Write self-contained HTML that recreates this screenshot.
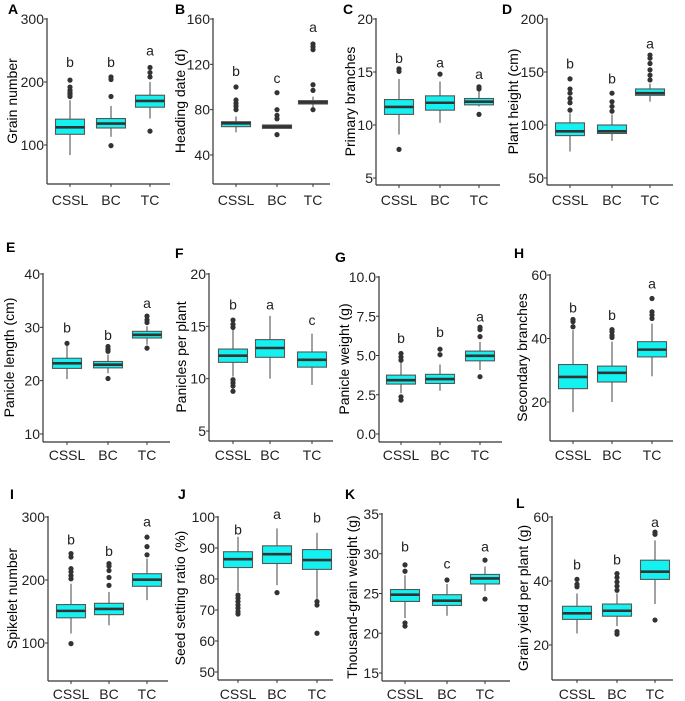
<!DOCTYPE html>
<html><head><meta charset="utf-8">
<style>
html,body{margin:0;padding:0;background:#fff;}
svg{display:block;font-family:"Liberation Sans",Arial,sans-serif;}
</style></head>
<body>
<svg id="fig" width="685" height="701" viewBox="0 0 685 701" xmlns="http://www.w3.org/2000/svg"></svg>
<script>
const categories = ['CSSL','BC','TC'];

// Each stats entry: [lowerWhisker, q1, median, q3, upperWhisker]
const A_stats = [[84,117,128,141,171],[113,127,134,142,162],[142,160,170,179,200]];
const A_out = [[177,180,183,187,192,203],[99,177,204,208],[122,208,215,223]];
const A_letters = ['b','b','a'];
const A_letterVal = [232,232,250];
const A_ticks = [100,200,300];

const B_stats = [[60,65,68,69.4,74],[69.4,63.5,65,66.5,69.4],[81,85,86.5,88,91.5]];
const B_out = [[80,83,85.6,88.5,100],[58,72,75,80,95],[80,97,102,133,135.6,138]];
const B_letters = ['b','c','a'];
const B_letterVal = [114,108,153];
const B_ticks = [40,80,120,160];

const C_stats = [[9.1,11.0,11.7,12.4,14.35],[10.2,11.4,12.1,12.75,14.1],[11.75,11.9,12.2,12.5,13.2]];
const C_out = [[7.7,15.05,15.3],[14.8],[11.0,13.4,13.6]];
const C_letters = ['b','a','a'];
const C_letterVal = [16.3,15.9,14.8];
const C_ticks = [5,10,15,20];

const D_stats = [[75,90,94,102,111],[85,92,94,100,110],[122,128,130,134,139]];
const D_out = [[114,121,125,130,134,143.5],[113,117.5,122,130],[142.5,147,152,158,163,166]];
const D_letters = ['b','b','a'];
const D_letterVal = [158,144,177];
const D_ticks = [50,100,150,200];

const E_stats = [[20.3,22.3,23.25,24.2,26.6],[21.4,22.4,23.0,23.6,24.9],[26.75,28.0,28.6,29.25,30.2]];
const E_out = [[27.0],[20.4,25.5,25.9,26.4],[26.1,30.9,31.4,32.1]];
const E_letters = ['b','b','a'];
const E_letterVal = [30,28.6,34.6];
const E_ticks = [10,20,30,40];

const F_stats = [[10.2,11.56,12.2,12.83,14.7],[10.0,12.04,12.93,13.73,16.0],[9.4,11.1,11.8,12.55,14.3]];
const F_out = [[8.8,9.3,9.6,9.9,14.9,15.2,15.6],[],[]];
const F_letters = ['b','a','c'];
const F_letterVal = [17.1,17.1,15.6];
const F_ticks = [5,10,15,20];

const G_stats = [[2.6,3.18,3.43,3.75,4.6],[2.75,3.22,3.5,3.8,4.43],[4.07,4.66,4.98,5.28,5.87]];
const G_out = [[2.16,2.37,4.7,4.9,5.13],[5.05,5.4],[3.65,6.2,6.65,6.8]];
const G_letters = ['b','b','a'];
const G_letterVal = [6.1,6.5,7.5];
const G_ticks = [0,2.5,5,7.5,10];
const G_tickLabels = ['0.0','2.5','5.0','7.5','10.0'];

const H_stats = [[16.8,24.2,27.9,31.8,42.6],[20,26.3,29.2,31.3,39],[28.1,34.2,36.5,39,44.7]];
const H_out = [[43.7,45.3,46],[40.3,41,42.1,42.8],[46.3,47.4,48.4,52.6]];
const H_letters = ['b','b','a'];
const H_letterVal = [49.8,47.4,57.4];
const H_ticks = [20,40,60];

const I_stats = [[115,140,151,161,194],[128,145,154,163,181],[168,190,200.5,210,234]];
const I_out = [[99,202,207,213,218,236.5,242],[191.5,204,215,222,226],[240,253,268]];
const I_letters = ['b','b','a'];
const I_letterVal = [264,246,293];
const I_ticks = [100,200,300];

const J_stats = [[75.9,83.7,86.4,88.8,93.6],[78,85.0,88,90.7,96.3],[73.2,83.1,86.1,89.5,94.9]];
const J_out = [[68.7,69.5,70.6,71.6,72.7,73.8,74.8],[75.6],[62.5,71.6,72.7]];
const J_letters = ['b','a','b'];
const J_letterVal = [95.9,101,99.8];
const J_ticks = [50,60,70,80,90,100];

const K_stats = [[21.9,24.0,24.85,25.5,27.3],[22.2,23.5,24.1,24.85,26.2],[25.3,26.2,26.9,27.4,28.4]];
const K_out = [[20.9,21.3,27.8,28.6],[26.7],[24.3,29.2]];
const K_letters = ['b','c','a'];
const K_letterVal = [30.9,28.8,30.9];
const K_ticks = [15,20,25,30,35];

const L_stats = [[23.6,28.0,29.9,32.1,36.1],[25.9,29.0,30.7,32.8,36.1],[32.8,40.5,42.9,46.5,52.7]];
const L_out = [[38.2,39,40.5],[23.4,24.2,37.1,38.4,39.7,41.1,42.3],[27.8,54.6,55.3]];
const L_letters = ['b','b','a'];
const L_letterVal = [45.2,46.7,58.4];
const L_ticks = [20,40,60];

// layout (pixel frames) per panel
const panels = [
 {id:'A',title:'Grain number',stats:A_stats,out:A_out,letters:A_letters,lv:A_letterVal,ticks:A_ticks,
  ax:47,xEnd:170,cx:[70,111,150],v1:300,p1:19,v0:100,p0:145,bottom:184,labY:205,tagX:8,tagY:14,titleX:12},
 {id:'B',title:'Heading date (d)',stats:B_stats,out:B_out,letters:B_letters,lv:B_letterVal,ticks:B_ticks,
  ax:213,xEnd:330,cx:[236,277,313],v1:160,p1:19,v0:40,p0:155,bottom:184,labY:205,tagX:175,tagY:14,titleX:180},
 {id:'C',title:'Primary branches',stats:C_stats,out:C_out,letters:C_letters,lv:C_letterVal,ticks:C_ticks,
  ax:376,xEnd:500,cx:[399,440,479],v1:20,p1:19,v0:5,p0:178,bottom:185,labY:205,tagX:343,tagY:14,titleX:350},
 {id:'D',title:'Plant height (cm)',stats:D_stats,out:D_out,letters:D_letters,lv:D_letterVal,ticks:D_ticks,
  ax:547,xEnd:673,cx:[570,612,650],v1:200,p1:19,v0:50,p0:178,bottom:185,labY:205,tagX:502,tagY:14,titleX:513},
 {id:'E',title:'Panicle length (cm)',stats:E_stats,out:E_out,letters:E_letters,lv:E_letterVal,ticks:E_ticks,
  ax:43,xEnd:170,cx:[67,108,147],v1:40,p1:274,v0:10,p0:434,bottom:442,labY:460,tagX:6,tagY:252,titleX:9},
 {id:'F',title:'Panicles per plant',stats:F_stats,out:F_out,letters:F_letters,lv:F_letterVal,ticks:F_ticks,
  ax:209,xEnd:333,cx:[233,270,312],v1:20,p1:274,v0:5,p0:431,bottom:441,labY:460,tagX:175,tagY:258,titleX:181},
 {id:'G',title:'Panicle weight (g)',stats:G_stats,out:G_out,letters:G_letters,lv:G_letterVal,ticks:G_ticks,tl:G_tickLabels,
  ax:379,xEnd:502,cx:[401,440,480],v1:10,p1:277,v0:0,p0:434,bottom:442,labY:460,tagX:335,tagY:262,titleX:344},
 {id:'H',title:'Secondary branches',stats:H_stats,out:H_out,letters:H_letters,lv:H_letterVal,ticks:H_ticks,
  ax:550,xEnd:673,cx:[573,612,652],v1:60,p1:275,v0:20,p0:402,bottom:441,labY:460,tagX:514,tagY:258,titleX:522},
 {id:'I',title:'Spikelet number',stats:I_stats,out:I_out,letters:I_letters,lv:I_letterVal,ticks:I_ticks,
  ax:48,xEnd:168,cx:[71,109,147],v1:300,p1:517,v0:100,p0:643,bottom:681,labY:699,tagX:10,tagY:499,titleX:12},
 {id:'J',title:'Seed setting ratio (%)',stats:J_stats,out:J_out,letters:J_letters,lv:J_letterVal,ticks:J_ticks,
  ax:218,xEnd:333,cx:[238,277,317],v1:100,p1:517,v0:50,p0:672,bottom:680,labY:699,tagX:178,tagY:499,titleX:180},
 {id:'K',title:'Thousand-grain weight (g)',stats:K_stats,out:K_out,letters:K_letters,lv:K_letterVal,ticks:K_ticks,
  ax:382,xEnd:510,cx:[405,447,485],v1:35,p1:514,v0:15,p0:673,bottom:681,labY:699,tagX:345,tagY:499,titleX:352},
 {id:'L',title:'Grain yield per plant (g)',stats:L_stats,out:L_out,letters:L_letters,lv:L_letterVal,ticks:L_ticks,
  ax:552,xEnd:673,cx:[577,617,655],v1:60,p1:517,v0:20,p0:645,bottom:680,labY:699,tagX:516,tagY:508,titleX:523}
];

const NS='http://www.w3.org/2000/svg';
const svg=document.getElementById('fig');
function mk(tag,attrs,parent){const e=document.createElementNS(NS,tag);for(const k in attrs)e.setAttribute(k,attrs[k]);(parent||svg).appendChild(e);return e;}

panels.forEach(p=>{
  const g=mk('g',{});
  
  
  const y=v=>p.p0+(v-p.v0)*(p.p1-p.p0)/(p.v1-p.v0);
  // tag
  const tag=mk('text',{x:p.tagX,y:p.tagY,'font-size':14,'font-weight':'bold',fill:'#000'},g);
  tag.textContent=p.id;
  
  
  // axes
  const yTop=Math.min(y(p.ticks[p.ticks.length-1]),y(p.ticks[0]))-1;
  const yax=mk('line',{x1:p.ax,y1:yTop,x2:p.ax,y2:p.bottom,stroke:'#333','stroke-width':1.2},g);
  
  
  const xax=mk('line',{x1:p.ax,y1:p.bottom,x2:p.xEnd,y2:p.bottom,stroke:'#333','stroke-width':1.2},g);
  
  
  p.ticks.forEach((t,i)=>{
    const ty=y(t);
    mk('line',{x1:p.ax-3,y1:ty,x2:p.ax,y2:ty,stroke:'#333','stroke-width':1},g);
    const tl=mk('text',{x:p.ax-3,y:ty+5,'font-size':14,'text-anchor':'end',fill:'#222'},g);
    tl.textContent=p.tl?p.tl[i]:String(t);
    
    
  });
  // title
  const cy=(yTop+p.bottom)/2;
  const tt=mk('text',{x:p.titleX,y:cy,'font-size':14,'text-anchor':'middle',fill:'#000',transform:`rotate(-90 ${p.titleX} ${cy})`,'dominant-baseline':'central'},g);
  tt.textContent=p.title;
  
  
  // boxes
  categories.forEach((c,i)=>{
    const x=p.cx[i], s=p.stats[i], w=29;
    mk('line',{x1:x,y1:p.bottom,x2:x,y2:p.bottom+3,stroke:'#333','stroke-width':1},g);
    const cl=mk('text',{x:x,y:p.labY,'font-size':14,'text-anchor':'middle',fill:'#222'},g);
    cl.textContent=c;
    
    
    const wh=mk('line',{x1:x,y1:y(s[0]),x2:x,y2:y(s[4]),stroke:'#555','stroke-width':1.1},g);
    
    
    const bx=mk('rect',{x:x-w/2,y:y(s[3]),width:w,height:Math.max(1,y(s[1])-y(s[3])),fill:'#14F1F1',stroke:'#555','stroke-width':1.1},g);
    
    
    const md=mk('line',{x1:x-w/2,y1:y(s[2]),x2:x+w/2,y2:y(s[2]),stroke:'#333','stroke-width':2.6},g);
    
    
    p.out[i].forEach(v=>{
      const o=mk('circle',{cx:x,cy:y(v),r:2.6,fill:'#333'},g);
      
      
    });
    const lt=mk('text',{x:x,y:y(p.lv[i])+5,'font-size':14,'text-anchor':'middle',fill:'#222'},g);
    lt.textContent=p.letters[i];
    
    
  });
});
</script>
</body></html>
